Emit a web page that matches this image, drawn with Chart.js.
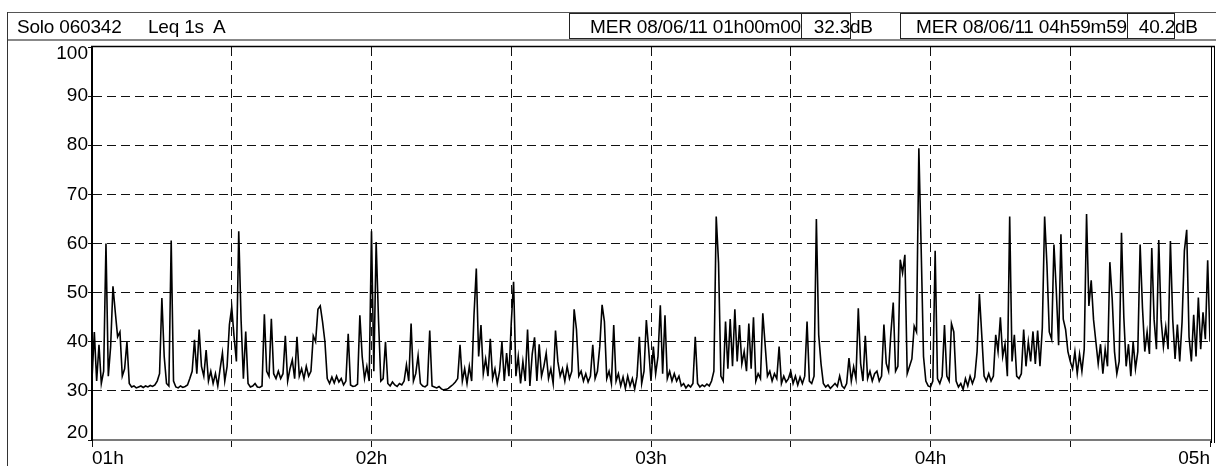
<!DOCTYPE html>
<html>
<head>
<meta charset="utf-8">
<script src="https://cdn.jsdelivr.net/npm/chart.js@4.4.1/dist/chart.umd.min.js"></script>
<style>
    html, body { margin: 0; padding: 0; background: #fff; }
    #wrap { position: relative; width: 1218px; height: 466px; overflow: hidden;
            font-family: "Liberation Sans", Arial, sans-serif; color: #000; }
    #chart { position: absolute; left: 0; top: 0; }
    .hdr { position: absolute; left: 7px; top: 12px; width: 1209px; height: 29px;
           border-top: 1px solid #555; border-bottom: 2px solid #888; box-sizing: border-box; }
    .side { position: absolute; left: 7px; top: 12px; width: 1px; height: 454px; background: #333; }
    .box { position: absolute; top: 13px; height: 26px; border: 1px solid #222; box-sizing: border-box; }
    .txt { position: absolute; top: 16px; font-size: 19px; line-height: 21px; letter-spacing: -0.2px; white-space: pre; }
</style>
</head>
<body>
<div id="wrap">
    <canvas id="chart" width="1218" height="466"></canvas>
    <div class="hdr"></div>
    <div class="side"></div>
    <div class="box" style="left:569px;width:233px"></div>
    <div class="box" style="left:801px;width:50px"></div>
    <div class="box" style="left:900px;width:228px"></div>
    <div class="box" style="left:1127px;width:48px"></div>
    <div class="txt" style="left:17px">Solo 060342</div>
    <div class="txt" style="left:148px">Leq 1s  A</div>
    <div class="txt" style="right:417px">MER 08/06/11 01h00m00</div>
    <div class="txt" style="right:368px">32.3</div>
    <div class="txt" style="left:850px">dB</div>
    <div class="txt" style="right:91px">MER 08/06/11 04h59m59</div>
    <div class="txt" style="right:43px">40.2</div>
    <div class="txt" style="left:1175px">dB</div>
</div>
<script>
// Leq 1s A, MER 08/06/11 01h00 -> 05h00, relevé toutes les 30 s (lecture du graphique)
const hourLabels = ['01h', '02h', '03h', '04h', '05h'];
const yTicks = [20, 30, 40, 50, 60, 70, 80, 90, 100];
const stepMinutes = 0.5;

// niveaux en dB(A), un groupe = 5 minutes
const levels = [
    32.5, 42.0, 32.0, 39.4, 31.5, 34.0, 60.0, 33.0, 39.0, 51.3,
    46.0, 41.0, 42.0, 33.0, 34.5, 40.0, 31.5, 30.8, 31.0, 30.6,
    30.8, 31.0, 30.7, 31.0, 30.8, 31.1, 30.9, 31.2, 32.0, 33.5,
    48.9, 37.0, 31.5, 31.0, 60.6, 32.0, 30.8, 30.6, 31.0, 30.7,
    30.9, 31.2, 32.5, 34.0, 40.4, 33.5, 42.5, 35.0, 33.0, 38.3,
    32.0, 34.0, 31.5, 33.5, 31.0, 34.5, 37.7, 32.0, 35.0, 43.5,
    47.0, 41.0, 36.0, 62.5, 44.5, 32.5, 42.1, 31.5, 30.8, 31.0,
    31.5, 30.8, 30.7, 31.0, 45.6, 34.0, 33.0, 44.7, 33.5, 32.5,
    34.0, 32.5, 33.5, 41.2, 32.0, 34.5, 36.3, 32.5, 41.0, 33.0,
    34.5, 32.5, 35.0, 33.0, 34.0, 41.2, 40.0, 46.6, 47.3, 44.0,
    40.0, 32.5, 31.5, 32.8, 31.6, 33.0, 31.8, 32.5, 31.2, 32.0,
    41.6, 31.2, 30.9, 31.0, 31.4, 45.4, 37.0, 32.5, 35.0, 32.0,
    62.5, 34.0, 60.3, 44.6, 32.0, 32.5, 40.0, 31.5, 31.0, 31.8,
    31.2, 30.9, 31.5, 31.2, 32.0, 35.3, 32.0, 43.7, 32.0, 33.5,
    37.2, 31.5, 31.0, 30.8, 31.2, 42.3, 31.0, 30.8, 30.6, 30.9,
    30.4, 30.2, 30.3, 30.5, 30.9, 31.3, 31.8, 32.5, 39.4, 32.0,
    34.5, 31.5, 35.0, 32.0, 45.4, 54.9, 37.0, 43.4, 33.5, 36.5,
    33.0, 40.6, 32.5, 34.5, 31.5, 34.0, 40.0, 32.0, 37.7, 33.0,
    43.8, 52.2, 33.0, 37.0, 31.5, 36.0, 32.0, 42.5, 31.0, 37.5,
    40.9, 32.0, 39.5, 33.0, 35.0, 37.7, 32.5, 34.5, 31.5, 42.3,
    36.0, 33.0, 34.5, 32.0, 35.0, 32.5, 34.0, 46.6, 42.5, 33.0,
    34.0, 32.0, 33.5, 31.8, 33.0, 39.4, 32.5, 34.0, 39.0, 47.5,
    44.1, 32.5, 34.0, 31.5, 43.4, 32.0, 33.5, 31.0, 32.8, 30.5,
    33.0, 31.0, 32.5, 30.4, 33.0, 41.0, 31.5, 34.0, 44.4, 38.5,
    32.0, 39.0, 33.5, 37.0, 47.4, 33.5, 45.4, 32.5, 34.0, 32.0,
    33.5, 32.0, 33.0, 31.0, 31.5, 30.6, 31.2, 30.8, 31.5, 41.0,
    31.5, 30.8, 31.2, 30.9, 31.4, 31.0, 32.0, 34.0, 65.5, 56.0,
    33.0, 32.0, 44.1, 34.5, 44.6, 35.0, 46.6, 36.0, 43.4, 35.5,
    38.0, 34.0, 43.7, 34.5, 45.0, 32.0, 33.5, 32.5, 45.8, 39.4,
    33.0, 34.0, 32.0, 33.5, 32.5, 39.0, 31.5, 33.0, 31.8, 32.5,
    34.0, 31.5, 33.0, 31.2, 32.8, 31.5, 33.0, 44.1, 32.0, 31.5,
    33.0, 65.0, 41.4, 35.5, 31.5, 30.8, 31.2, 30.5, 31.0, 31.5,
    30.9, 33.0, 31.0, 30.5, 31.5, 36.7, 32.0, 34.9, 32.5, 46.8,
    35.6, 32.0, 41.2, 32.5, 34.0, 32.0, 33.5, 34.0, 32.0, 33.0,
    43.5, 35.6, 34.0, 41.8, 48.0, 34.0, 35.0, 56.7, 54.0, 57.7,
    33.5, 35.0, 36.5, 43.2, 42.0, 79.4, 58.8, 37.0, 32.0, 31.0,
    30.8, 32.0, 58.5, 32.5, 31.5, 33.0, 43.4, 33.0, 32.0, 43.7,
    42.0, 32.0, 30.8, 31.5, 30.3, 32.5, 31.0, 33.0, 31.5, 32.8,
    38.0, 49.7, 41.4, 33.0, 32.0, 33.5, 32.0, 33.0, 41.4, 38.0,
    45.0, 37.0, 39.5, 33.0, 65.5, 36.0, 41.4, 33.0, 32.5, 33.5,
    42.5, 35.0, 40.0, 36.0, 42.1, 35.5, 42.3, 35.0, 42.8, 65.5,
    55.6, 42.0, 40.5, 59.8, 50.5, 39.3, 61.9, 44.6, 42.5, 38.0,
    36.0, 34.5, 38.0, 33.5, 37.5, 34.0, 38.5, 66.0, 47.3, 52.5,
    44.5, 40.0, 35.5, 39.5, 33.5, 38.5, 35.0, 56.2, 48.8, 38.0,
    33.5, 36.0, 62.2, 45.0, 35.0, 39.5, 33.0, 40.0, 34.5, 38.0,
    59.8, 47.0, 38.0, 42.0, 37.5, 59.1, 44.5, 38.5, 60.7, 44.5,
    39.0, 43.0, 38.5, 60.5, 44.5, 36.5, 43.5, 36.0, 44.0, 58.5,
    62.8, 41.0, 36.0, 45.5, 37.0, 49.0, 38.5, 46.0, 40.5, 56.6,
    40.0
];

const points = levels.map((v, i) => ({ x: i * stepMinutes, y: v }));

// cadre du tracé : trait haut et double trait à droite
const framePlugin = {
    id: 'frame',
    afterDraw(chart) {
        const { ctx, chartArea } = chart;
        ctx.save();
        ctx.strokeStyle = '#000';
        ctx.lineWidth = 1.5;
        ctx.beginPath();
        ctx.moveTo(chartArea.left - 1, chartArea.top - 0.5);
        ctx.lineTo(chartArea.right + 5, chartArea.top - 0.5);
        ctx.stroke();
        ctx.lineWidth = 1;
        ctx.beginPath();
        ctx.moveTo(chartArea.right + 1.5, chartArea.top);
        ctx.lineTo(chartArea.right + 1.5, chartArea.bottom + 3);
        ctx.moveTo(chartArea.right + 4.5, chartArea.top);
        ctx.lineTo(chartArea.right + 4.5, chartArea.bottom + 3);
        ctx.stroke();
        ctx.restore();
    }
};

const font = { family: '"Liberation Sans", Arial, sans-serif', size: 19, lineHeight: '14px' };

new Chart(document.getElementById('chart').getContext('2d'), {
    type: 'line',
    data: {
        datasets: [{
            label: 'Leq 1s A',
            data: points,
            borderColor: '#000',
            borderWidth: 1.6,
            pointRadius: 0,
            tension: 0,
            fill: false
        }]
    },
    options: {
        responsive: false,
        animation: false,
        layout: { padding: { left: 0, top: 47, right: 8, bottom: 0 } },
        plugins: {
            legend: { display: false },
            tooltip: { enabled: false }
        },
        scales: {
            x: {
                type: 'linear',
                min: 0,
                max: 240,
                afterFit: (scale) => { scale.height = 26; },
                ticks: {
                    stepSize: 30,
                    autoSkip: false,
                    maxRotation: 0,
                    align: 'inner',
                    padding: 0,
                    color: '#000',
                    font: { family: font.family, size: 19 },
                    callback: (value) => value % 60 === 0 ? hourLabels[value / 60] : ''
                },
                grid: {
                    color: (c) => (c.tick && (c.tick.value === 0 || c.tick.value === 240)) ? 'rgba(0,0,0,0)' : '#111',
                    lineWidth: 1,
                    tickColor: '#111',
                    tickLength: 7
                },
                border: { display: true, color: '#7a7a7a', width: 2, dash: [9, 5] }
            },
            y: {
                min: 20,
                max: 100,
                afterFit: (scale) => { scale.width = 92; },
                afterBuildTicks: (scale) => { scale.ticks = yTicks.map(v => ({ value: v })); },
                ticks: {
                    padding: 0,
                    color: '#000',
                    font: font,
                    // premier et dernier libellé rentrés dans la zone du tracé
                    callback: (value) => value === 100 ? ['', '100'] : (value === 20 ? ['20', ''] : String(value))
                },
                grid: {
                    color: (c) => (c.tick && (c.tick.value === 20 || c.tick.value === 100)) ? 'rgba(0,0,0,0)' : '#111',
                    lineWidth: 1,
                    tickColor: '#111',
                    tickLength: 4
                },
                border: { display: true, color: '#000', width: 2, dash: [9, 5] }
            }
        }
    },
    plugins: [framePlugin]
});
</script>
</body>
</html>
